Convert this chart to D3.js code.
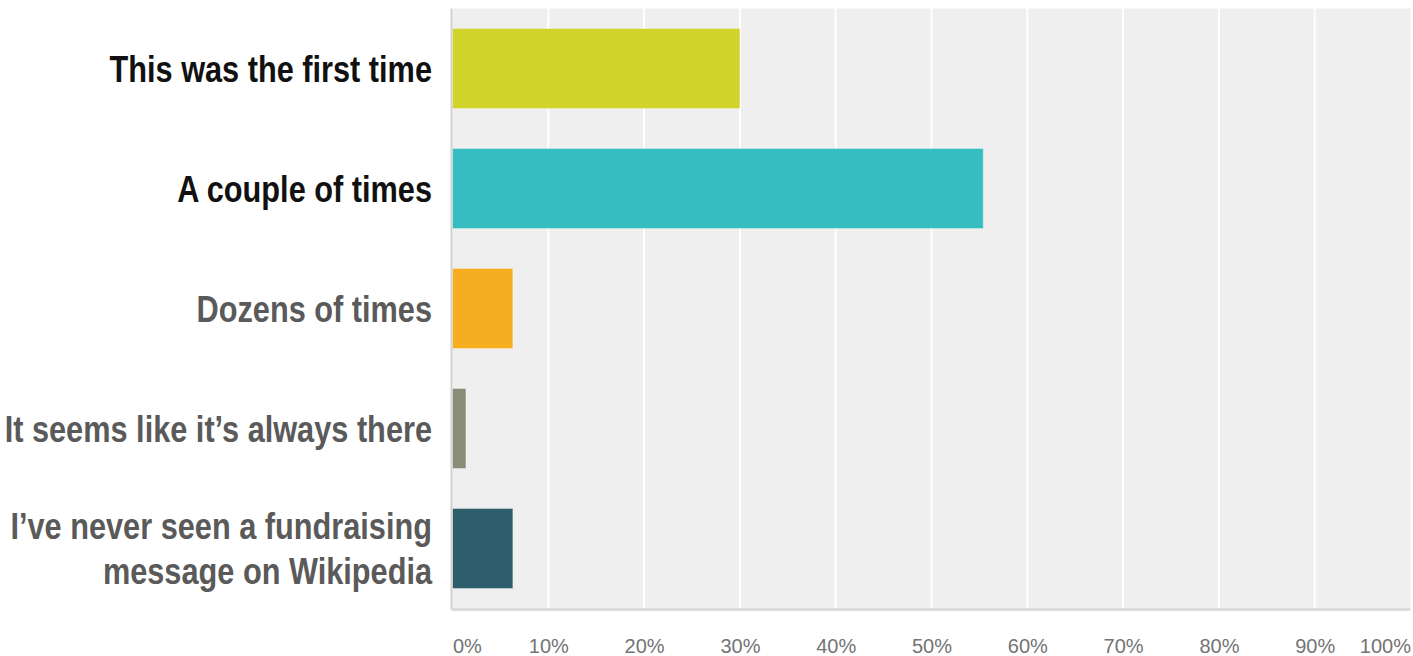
<!DOCTYPE html>
<html>
<head>
<meta charset="utf-8">
<script src="https://cdn.jsdelivr.net/npm/d3@7"></script>
<style>
  html, body { margin: 0; padding: 0; background: #ffffff; }
  svg { display: block; }
</style>
</head>
<body>
<svg id="chart" width="1413" height="656"></svg>
<script>
// Answer options, shown top to bottom
const categories = [
  "This was the first time",
  "A couple of times",
  "Dozens of times",
  "It seems like it’s always there",
  "I’ve never seen a fundraising\nmessage on Wikipedia"
];
// Share of respondents for each answer (%)
const percentages = [30.0, 55.4, 6.3, 1.4, 6.3];
const barColors = ["#d0d42a", "#35bdbf", "#f6ae20", "#8a8b79", "#2e5e6b"];
const labelColors = ["#111111", "#111111", "#5a5a5a", "#5a5a5a", "#5a5a5a"];
const tickValues = [0, 10, 20, 30, 40, 50, 60, 70, 80, 90, 100];
const tickLabels = ["0%", "10%", "20%", "30%", "40%", "50%", "60%", "70%", "80%", "90%", "100%"];

const svg = d3.select("#chart");
const plot = { left: 452.5, right: 1410.5, top: 8.5, bottom: 608.5 };

const x = d3.scaleLinear().domain([0, 100]).range([plot.left, plot.right]);
const y = d3.scaleBand()
  .domain(categories)
  .range([plot.top, plot.bottom])
  .paddingInner(1 / 3)
  .paddingOuter(1 / 6);

// Plot background
svg.append("rect")
  .attr("x", plot.left)
  .attr("y", plot.top)
  .attr("width", plot.right - plot.left)
  .attr("height", plot.bottom - plot.top)
  .attr("fill", "#efefef");

// Vertical gridlines
svg.append("g")
  .selectAll("line")
  .data(tickValues.filter(v => v > 0 && v < 100))
  .join("line")
  .attr("x1", d => x(d)).attr("x2", d => x(d))
  .attr("y1", plot.top).attr("y2", plot.bottom)
  .attr("stroke", "#ffffff")
  .attr("stroke-width", 2);

// Bars
svg.append("g")
  .selectAll("rect")
  .data(categories)
  .join("rect")
  .attr("x", x(0))
  .attr("y", d => y(d))
  .attr("width", (d, i) => x(percentages[i]) - x(0))
  .attr("height", y.bandwidth())
  .attr("fill", (d, i) => barColors[i])
  .attr("stroke", "rgba(255,255,255,0.35)")
  .attr("stroke-width", 1);

// Axis lines
svg.append("line")
  .attr("x1", plot.left - 1).attr("x2", plot.left - 1)
  .attr("y1", plot.top).attr("y2", plot.bottom + 1)
  .attr("stroke", "#d2d2d2")
  .attr("stroke-width", 2);
svg.append("line")
  .attr("x1", plot.left - 1).attr("x2", plot.right)
  .attr("y1", plot.bottom + 1).attr("y2", plot.bottom + 1)
  .attr("stroke", "#dcdcdc")
  .attr("stroke-width", 3);

// Bottom axis labels
const xAxis = d3.axisBottom(x)
  .tickValues(tickValues)
  .tickFormat((d, i) => tickLabels[i])
  .tickSize(0)
  .tickPadding(0);

const gx = svg.append("g").call(xAxis);
gx.select(".domain").remove();
gx.selectAll("text")
  .attr("y", 653)
  .attr("dy", null)
  .attr("fill", "#747474")
  .style("font-family", "'Liberation Sans', Arial, sans-serif")
  .style("font-size", "20px")
  .attr("text-anchor", (d, i) => i === 0 ? "start" : (i === tickValues.length - 1 ? "end" : "middle"));

// Category labels, right aligned beside the bars, in a narrowed bold face
const lineGap = 45;
const narrow = 0.83;
const labels = svg.append("g")
  .selectAll("text")
  .data(categories)
  .join("text")
  .attr("text-anchor", "end")
  .attr("fill", (d, i) => labelColors[i])
  .attr("transform", d => `translate(432, ${y(d) + y.bandwidth() / 2 + 13}) scale(${narrow}, 1)`)
  .style("font-family", "'Liberation Sans', Arial, sans-serif")
  .style("font-weight", "bold")
  .style("font-size", "37px");

labels.each(function (d) {
  const lines = d.split("\n");
  d3.select(this).selectAll("tspan")
    .data(lines)
    .join("tspan")
    .attr("x", 0)
    .attr("y", (t, j) => (j - (lines.length - 1) / 2) * lineGap)
    .text(t => t);
});
</script>
</body>
</html>
